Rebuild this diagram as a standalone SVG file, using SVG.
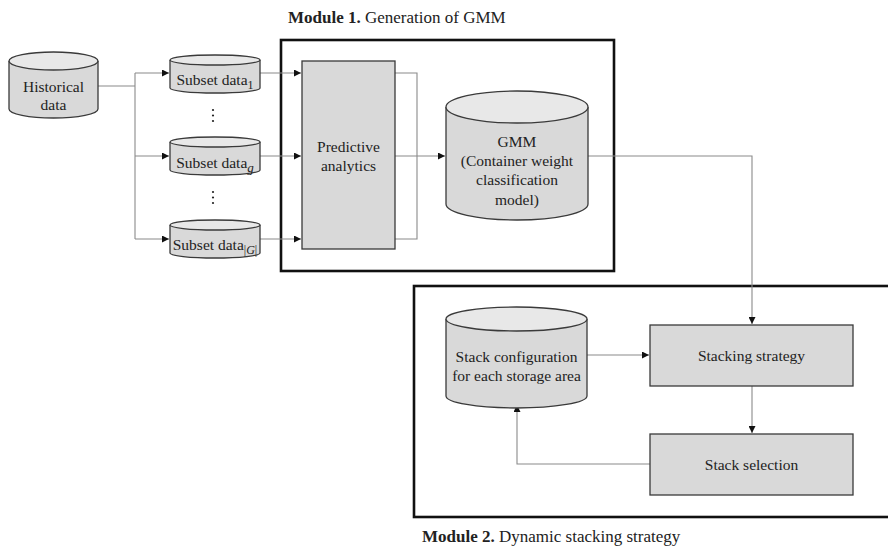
<svg xmlns="http://www.w3.org/2000/svg" width="888" height="548" viewBox="0 0 888 548">
<style>
text{font-family:"Liberation Serif","Times New Roman",serif;font-size:15.5px;fill:#222;text-anchor:middle}
.title{font-size:17px;text-anchor:start}
.body{fill:#d9d9d9;stroke:#3a3a3a;stroke-width:1.3}
.top{fill:#e8e8e8;stroke:#3a3a3a;stroke-width:1.3}
.box{fill:#d9d9d9;stroke:#3a3a3a;stroke-width:1.3}
.frame{fill:none;stroke:#111;stroke-width:2.6}
.con{fill:none;stroke:#8a8a8a;stroke-width:1.1}
</style>
<defs>
<marker id="ah" viewBox="0 0 10 10" refX="10" refY="5" markerWidth="7" markerHeight="7" markerUnits="userSpaceOnUse" orient="auto">
<path d="M0,0 L10,5 L0,10 z" fill="#111"/>
</marker>
</defs>
<rect width="888" height="548" fill="#fff"/>

<g id="module1">
<rect class="frame" x="281" y="40" width="333" height="231"/>
<text class="title" x="288" y="23"><tspan font-weight="bold">Module 1.</tspan> Generation of GMM</text>
</g>
<g id="module2">
<rect class="frame" x="414" y="286" width="480" height="231"/>
<text class="title" x="422" y="542"><tspan font-weight="bold">Module 2.</tspan> Dynamic stacking strategy</text>
</g>

<g id="connectors">
<path class="con" d="M98,86 H135"/>
<path class="con" d="M135,73 V239"/>
<path class="con" d="M135,73 H169" marker-end="url(#ah)"/>
<path class="con" d="M135,156 H169" marker-end="url(#ah)"/>
<path class="con" d="M135,239 H169" marker-end="url(#ah)"/>
<path class="con" d="M260,73 H301" marker-end="url(#ah)"/>
<path class="con" d="M260,156 H301" marker-end="url(#ah)"/>
<path class="con" d="M260,239 H301" marker-end="url(#ah)"/>
<path class="con" d="M395,73 H417 V239 H395"/>
<path class="con" d="M395,156 H445" marker-end="url(#ah)"/>
<path class="con" d="M588,156 H752 V324" marker-end="url(#ah)"/>
<path class="con" d="M587,355 H649" marker-end="url(#ah)"/>
<path class="con" d="M752,386 V433" marker-end="url(#ah)"/>
<path class="con" d="M650,464 H517 V405" marker-end="url(#ah)"/>
</g>

<g id="historical">
<path class="body" d="M9,61 V109 A44.5,9 0 0 0 98,109 V61"/>
<ellipse class="top" cx="53.5" cy="61" rx="44.5" ry="9"/>
<text x="53.5" y="92">Historical</text>
<text x="53.5" y="110">data</text>
</g>

<g id="subset1">
<path class="body" d="M170,60 V88 A45,5 0 0 0 260,88 V60"/>
<ellipse class="top" cx="215" cy="60" rx="45" ry="5"/>
<text x="215" y="85">Subset data<tspan font-size="12" dy="4">1</tspan></text>
</g>
<g id="dots1">
<circle cx="213" cy="110" r="1.1" fill="#222"/><circle cx="213" cy="115.5" r="1.1" fill="#222"/><circle cx="213" cy="121" r="1.1" fill="#222"/>
</g>
<g id="subsetg">
<path class="body" d="M170,142 V170 A45,5 0 0 0 260,170 V142"/>
<ellipse class="top" cx="215" cy="142" rx="45" ry="5"/>
<text x="215" y="168">Subset data<tspan font-size="13" font-style="italic" dy="4">g</tspan></text>
</g>
<g id="dots2">
<circle cx="213" cy="192" r="1.1" fill="#222"/><circle cx="213" cy="197.5" r="1.1" fill="#222"/><circle cx="213" cy="203" r="1.1" fill="#222"/>
</g>
<g id="subsetG">
<path class="body" d="M170,225 V253 A45,5 0 0 0 260,253 V225"/>
<ellipse class="top" cx="215" cy="225" rx="45" ry="5"/>
<text x="215" y="250">Subset data<tspan font-size="12" dy="4">|<tspan font-style="italic">G</tspan>|</tspan></text>
</g>

<g id="predictive">
<rect class="box" x="302" y="61" width="93" height="188"/>
<text x="348.5" y="152">Predictive</text>
<text x="348.5" y="171">analytics</text>
</g>

<g id="gmm">
<path class="body" d="M446,107 V204 A71,16 0 0 0 588,204 V107"/>
<ellipse class="top" cx="517" cy="107" rx="71" ry="16"/>
<text x="517" y="147">GMM</text>
<text x="517" y="166">(Container weight</text>
<text x="517" y="185">classification</text>
<text x="517" y="205">model)</text>
</g>

<g id="stackconfig">
<path class="body" d="M446,319 V396 A70.5,12 0 0 0 587,396 V319"/>
<ellipse class="top" cx="516.5" cy="319" rx="70.5" ry="12"/>
<text x="516.5" y="362">Stack configuration</text>
<text x="516.5" y="381">for each storage area</text>
</g>

<g id="stacking">
<rect class="box" x="650" y="325" width="203" height="61"/>
<text x="751.5" y="361">Stacking strategy</text>
</g>

<g id="selection">
<rect class="box" x="650" y="434" width="203" height="61"/>
<text x="751.5" y="470">Stack selection</text>
</g>
</svg>
